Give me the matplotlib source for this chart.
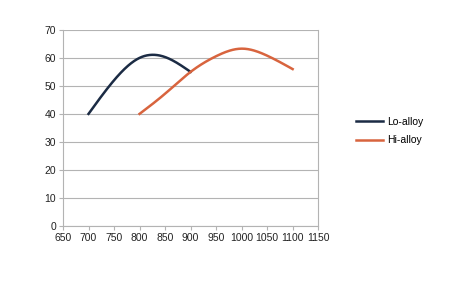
import numpy as np
import matplotlib.pyplot as plt

lo_x = [700, 750, 800, 850, 900]
lo_y = [40, 52, 60, 60.3, 55]
hi_x = [800, 850, 900, 950, 1000, 1050, 1100]
hi_y = [40, 47.2, 55, 60.6, 63.3, 60.8, 56]


def smooth(x, y, n=200):
    # natural cubic spline, drawn like the office-suite "smooth line" option
    x = np.asarray(x, float)
    y = np.asarray(y, float)
    k = len(x)
    h = np.diff(x)
    A = np.zeros((k, k))
    b = np.zeros(k)
    A[0, 0] = A[-1, -1] = 1
    for i in range(1, k - 1):
        A[i, i - 1] = h[i - 1]
        A[i, i] = 2 * (h[i - 1] + h[i])
        A[i, i + 1] = h[i]
        b[i] = 6 * ((y[i + 1] - y[i]) / h[i] - (y[i] - y[i - 1]) / h[i - 1])
    m = np.linalg.solve(A, b)
    xs = np.linspace(x[0], x[-1], n)
    idx = np.clip(np.searchsorted(x, xs) - 1, 0, k - 2)
    t = xs - x[idx]
    hi = h[idx]
    a = y[idx]
    bb = (y[idx + 1] - y[idx]) / hi - hi * (2 * m[idx] + m[idx + 1]) / 6
    c = m[idx] / 2
    d = (m[idx + 1] - m[idx]) / (6 * hi)
    return xs, a + bb * t + c * t**2 + d * t**3


plt.rcParams['font.family'] = ['Liberation Sans', 'DejaVu Sans']
fig = plt.figure(figsize=(4.5, 2.82), dpi=100)
ax = fig.add_axes([0.14, 0.199, 0.567, 0.695])

ax.plot(*smooth(lo_x, lo_y), color='#1b2b44', lw=1.8, label='Lo-alloy')
ax.plot(*smooth(hi_x, hi_y), color='#d8643e', lw=1.8, label='Hi-alloy')

ax.set_xlim(650, 1150)
ax.set_ylim(0, 70)
ax.set_xticks(np.arange(650, 1151, 50))
ax.set_yticks(np.arange(0, 71, 10))
ax.grid(axis='y', color='#b3b3b3', lw=0.8)
ax.set_axisbelow(True)
for s in ax.spines.values():
    s.set_color('#b3b3b3')
    s.set_linewidth(0.8)
ax.spines['top'].set_visible(False)
ax.tick_params(colors='#b3b3b3', labelcolor='#222222', labelsize=7.5,
               length=3, width=0.8, pad=2)

fig.legend(loc='center left', bbox_to_anchor=(0.77, 0.535), frameon=False,
           fontsize=7.5, handlelength=2.6, handletextpad=0.4, labelspacing=0.8)
fig.savefig('out.png', dpi=100)
